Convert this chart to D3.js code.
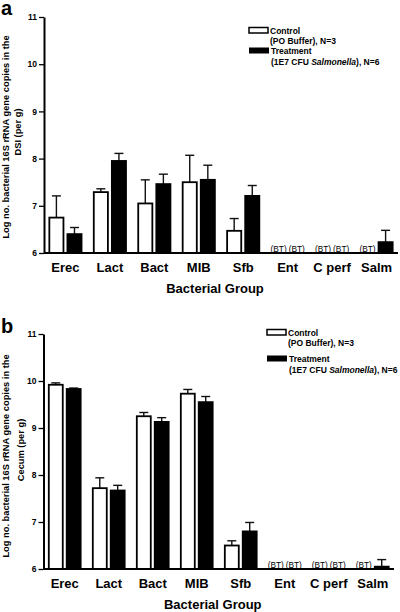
<!DOCTYPE html>
<html><head><meta charset="utf-8">
<script src="https://cdn.jsdelivr.net/npm/d3@7"></script>
<style>
body{margin:0;background:#fff}
svg{display:block}
text{font-family:"Liberation Sans",Arial,Helvetica,sans-serif}
</style>
</head><body>
<svg id="chart" width="400" height="612"></svg>
<script>
// ---------- data ----------
const categories = ["Erec","Lact","Bact","MIB","Sfb","Ent","C perf","Salm"];
const seriesNames = ["Control","Treatment"];
// DSI panel (a); null = below threshold (BT)
const dsiControl      = [6.75,7.29,7.05,7.50,6.47,null,null,null];
const dsiControlErr   = [0.46,0.07,0.50,0.57,0.26,null,null,null];
const dsiTreatment    = [6.40,7.95,7.46,7.55,7.21,null,null,6.23];
const dsiTreatmentErr = [0.14,0.16,0.21,0.31,0.22,null,null,0.25];
// Cecum panel (b)
const cecumControl      = [9.92,7.72,9.25,9.73,6.50,null,null,null];
const cecumControlErr   = [0.04,0.22,0.08,0.09,0.10,null,null,null];
const cecumTreatment    = [9.83,7.67,9.13,9.55,6.80,null,null,6.05];
const cecumTreatmentErr = [0.02,0.11,0.09,0.12,0.19,null,null,0.15];
const yTicks = [6,7,8,9,10,11];
const yDomain = [6,11];
const btLabel = "(BT)";
const xTitle = "Bacterial Group";
const yTitleLine1 = "Log no. bacterial 16S rRNA gene copies in the";
const legendControl = ["Control","(PO Buffer), N=3"];
const legendTreatment = ["Treatment","(1E7 CFU ", "Salmonella", "), N=6"];

// ---------- layout ----------
const svg = d3.select("#chart");
const panels = [
  {letter:"a", letterY:15, top:17, bottom:253, left:44, right:398,
   control:dsiControl, controlErr:dsiControlErr, treat:dsiTreatment, treatErr:dsiTreatmentErr,
   yTitle2:"DSI (per g)", yT1:{x:9, y:137}, yT2:{x:21, y:132},
   legend:{x:249, y1:27.5, y2:47.5}},
  {letter:"b", letterY:333, top:334, bottom:569, left:43.5, right:394,
   control:cecumControl, controlErr:cecumControlErr, treat:cecumTreatment, treatErr:cecumTreatmentErr,
   yTitle2:"Cecum (per g)", yT1:{x:9, y:456}, yT2:{x:24, y:450},
   legend:{x:267, y1:329.5, y2:355.5}}
];

panels.forEach(p => {
  const g = svg.append("g");
  const y = d3.scaleLinear().domain(yDomain).range([p.bottom, p.top]);
  const x0 = d3.scaleBand().domain(categories).range([p.left, p.right]).paddingInner(0.235).paddingOuter(0.1);
  const x1 = d3.scaleBand().domain(seriesNames).range([0, x0.bandwidth()]).paddingInner(0.12);

  // panel letter
  g.append("text").attr("x", 1).attr("y", p.letterY)
    .attr("font-size", 20).attr("font-weight", "bold").text(p.letter);

  const rows = categories.map((c,i) => [
    {cat:c, s:"Control", v:p.control[i], e:p.controlErr[i]},
    {cat:c, s:"Treatment", v:p.treat[i], e:p.treatErr[i]}
  ]).flat();
  const present = rows.filter(d => d.v != null);
  const absent = rows.filter(d => d.v == null);

  // error bars (upper only)
  const eb = g.append("g");
  present.forEach(d => {
    const cx = x0(d.cat) + x1(d.s) + x1.bandwidth()/2;
    eb.append("line").attr("x1", cx).attr("x2", cx)
      .attr("y1", y(d.v)).attr("y2", y(d.v + d.e))
      .attr("stroke", "#111").attr("stroke-width", 1.4);
    eb.append("line").attr("x1", cx-4.5).attr("x2", cx+4.5)
      .attr("y1", y(d.v + d.e)).attr("y2", y(d.v + d.e))
      .attr("stroke", "#111").attr("stroke-width", 1.4);
  });

  // bars
  g.append("g").selectAll("rect").data(present).join("rect")
    .attr("x", d => x0(d.cat) + x1(d.s) + 0.9)
    .attr("width", x1.bandwidth() - 1.8)
    .attr("y", d => y(d.v))
    .attr("height", d => y(yDomain[0]) - y(d.v))
    .attr("fill", d => d.s === "Control" ? "#fff" : "#000")
    .attr("stroke", "#000").attr("stroke-width", 1.8);

  // below-threshold labels
  g.append("g").selectAll("text").data(absent).join("text")
    .attr("x", d => x0(d.cat) + x1(d.s) + x1.bandwidth()/2)
    .attr("y", y(yDomain[0]) - 1.5)
    .attr("text-anchor", "middle").attr("font-size", 8.3).attr("fill", "#000")
    .text(btLabel);

  // y axis
  const ya = g.append("g").attr("transform", `translate(${p.left},0)`)
    .call(d3.axisLeft(y).tickValues(yTicks).tickSize(5).tickSizeOuter(0).tickPadding(2).tickFormat(d3.format("d")));
  ya.select(".domain").attr("stroke-width", 2).attr("stroke", "#000");
  ya.selectAll(".tick line").attr("stroke-width", 1.3).attr("stroke", "#000");
  ya.selectAll(".tick text").attr("font-size", 8.5).attr("font-weight", "bold").attr("fill", "#000")
    .style("font-family", "'Liberation Sans',Arial,sans-serif");

  // x axis
  const xa = g.append("g").attr("transform", `translate(0,${p.bottom})`)
    .call(d3.axisBottom(x0).tickSize(0).tickSizeOuter(0).tickPadding(10));
  xa.select(".domain").attr("stroke-width", 2).attr("stroke", "#000")
    .attr("d", `M${p.left},0H${p.right}`);
  xa.selectAll(".tick text").attr("font-size", 13).attr("font-weight", "bold").attr("fill", "#000")
    .style("font-family", "'Liberation Sans',Arial,sans-serif");

  // x title
  g.append("text").attr("x", (p.left + p.right)/2 - 6).attr("y", p.bottom + 40)
    .attr("text-anchor", "middle").attr("font-size", 13).attr("font-weight", "bold").text(xTitle);

  // y title
  g.append("text").attr("transform", `translate(${p.yT1.x},${p.yT1.y}) rotate(-90)`)
    .attr("text-anchor", "middle").attr("font-size", 9.3).attr("font-weight", "bold").text(yTitleLine1);
  g.append("text").attr("transform", `translate(${p.yT2.x},${p.yT2.y}) rotate(-90)`)
    .attr("text-anchor", "middle").attr("font-size", 9.3).attr("font-weight", "bold").text(p.yTitle2);

  // legend
  const L = p.legend;
  g.append("rect").attr("x", L.x).attr("y", L.y1).attr("width", 19).attr("height", 5.5)
    .attr("fill", "#fff").attr("stroke", "#000").attr("stroke-width", 1.5);
  g.append("text").attr("x", L.x + 21).attr("y", L.y1 + 6.5).attr("font-size", 8.5).attr("font-weight", "bold").text(legendControl[0]);
  g.append("text").attr("x", L.x + 21).attr("y", L.y1 + 16.5).attr("font-size", 8.5).attr("font-weight", "bold").text(legendControl[1]);
  g.append("rect").attr("x", L.x).attr("y", L.y2).attr("width", 20).attr("height", 6)
    .attr("fill", "#000");
  g.append("text").attr("x", L.x + 22).attr("y", L.y2 + 6.5).attr("font-size", 8.5).attr("font-weight", "bold").text(legendTreatment[0]);
  const t2 = g.append("text").attr("x", L.x + 22).attr("y", L.y2 + 17).attr("font-size", 8.5).attr("font-weight", "bold");
  t2.append("tspan").text(legendTreatment[1]);
  t2.append("tspan").attr("font-style", "italic").text(legendTreatment[2]);
  t2.append("tspan").text(legendTreatment[3]);
});
</script>
</body></html>
